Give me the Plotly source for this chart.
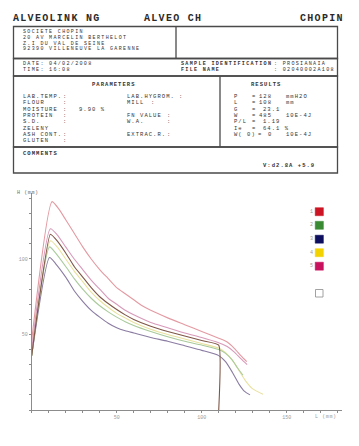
import plotly.graph_objects as go

W, H = 359, 446

# ---------------- data ----------------
legend_labels = ["1", "2", "3", "4", "5"]
legend_colors = ["#cc1424", "#3a8a34", "#0e0e5e", "#f2d200", "#c8125e"]

# individual bubble curves (L in mm, H in mm)
red_x = [0, 12, 16, 20, 25, 30, 35, 40, 45, 50, 55, 60, 65, 70, 80, 90, 100, 110, 115, 119, 123, 126.5]
red_y = [46, 138, 133, 126, 117, 108, 100, 93, 87, 81, 77, 73, 69, 66, 61, 56.5, 52, 47.5, 45, 41, 36, 32]

magenta_x = [0, 11, 15, 20, 25, 30, 35, 40, 45, 50, 55, 60, 70, 80, 90, 100, 110, 115, 119, 123, 126.7]
magenta_y = [40, 120, 116, 108, 100, 93, 86, 80, 74, 70, 66, 63, 58, 54.5, 51, 48, 44.5, 42, 38.5, 34, 30]

yellow_x = [0, 11, 15, 20, 25, 30, 35, 40, 45, 50, 55, 60, 70, 80, 90, 100, 110, 114, 118, 122, 126, 130, 136]
yellow_y = [36, 112, 108, 100, 92, 85, 78, 72.5, 68, 64, 61, 58, 53.5, 50, 47, 44, 41, 38, 33, 26, 19, 14, 10.5]

green_x = [0, 10.5, 14, 20, 25, 30, 35, 40, 45, 50, 55, 60, 70, 80, 90, 100, 110, 114, 118, 121, 124.3]
green_y = [36, 108, 104, 95, 87, 80, 74, 69, 65, 61.5, 58.5, 56, 52, 48.5, 45.5, 43, 40, 37.5, 33, 28, 23]

blue_x = [0, 10.5, 14, 20, 25, 30, 35, 40, 45, 50, 55, 60, 70, 80, 90, 100, 110, 114, 118, 122, 125, 128.4]
blue_y = [36, 101, 97, 88, 79, 72, 66, 61.5, 57.5, 54.5, 52.5, 51, 48, 45.5, 42.5, 39.5, 36, 32, 25, 17, 12.5, 10]

# average curve (ends at L with a vertical drop)
avg_x = [0, 11, 15, 20, 25, 30, 35, 40, 45, 50, 55, 60, 70, 80, 90, 100, 110, 110]
avg_y = [36, 116.4, 112, 104, 95, 88, 81, 75, 70.5, 66.5, 63, 60, 55.5, 52, 49, 46, 43, 0]

x_tickvals = list(range(0, 181, 10))
x_ticktext = ["50" if v == 50 else "100" if v == 100 else "150" if v == 150 else "" for v in x_tickvals]
y_tickvals = list(range(0, 141, 10))
y_ticktext = ["50" if v == 50 else "100" if v == 100 else "" for v in y_tickvals]

# report texts
title_parts = [("ALVEOLINK NG", 12, "left"), ("ALVEO CH", 143, "left"), ("CHOPIN", 345, "right")]
address_lines = ["SOCIETE CHOPIN", "20 AV MARCELIN BERTHELOT", "Z.I DU VAL DE SEINE", "92390 VILLENEUVE LA GARENNE"]
param_labels = ["LAB.TEMP.", "FLOUR", "MOISTURE", "PROTEIN", "S.D.", "ZELENY", "ASH CONT.", "GLUTEN"]
param_colons = [True, True, True, True, True, False, True, True]
param_values = ["", "", "9.90 %", "", "", "", "", ""]
mid_labels = [("LAB.HYGROM.", 178), ("MILL", 150), ("", 0), ("FN VALUE", 166),
              ("W.A.", 166), ("", 0), ("EXTRAC.R.", 166), ("", 0)]
result_names = ["P", "L", "G", "W", "P/L", "Ie", "W( 0)", ""]
result_eq_x = [251, 251, 251, 251, 251, 251, 257, 0]
result_values = ["128", "108", "23.1", "485", "1.19", "64.1 %", "0", ""]
result_value_x = [258, 258, 262, 258, 262, 262, 267, 0]
result_units = ["mmH2O", "mm", "", "10E-4J", "", "", "10E-4J", ""]

# ---------------- figure ----------------
def X(px):
    return px / W

def Y(py):
    return 1 - py / H

fig = go.Figure()

line_colors = {"red": "#e39aa2", "magenta": "#d79ab9", "yellow": "#e9e19e",
               "green": "#a9ca9b", "blue": "#8a7ca2", "avg": "#7e5646"}
for key, xs, ys in [("yellow", yellow_x, yellow_y), ("blue", blue_x, blue_y), ("green", green_x, green_y),
                    ("magenta", magenta_x, magenta_y), ("red", red_x, red_y)]:
    fig.add_trace(go.Scatter(x=xs, y=ys, mode="lines",
                             line=dict(color=line_colors[key], width=1.1, shape="spline", smoothing=0.6),
                             hoverinfo="skip"))
fig.add_trace(go.Scatter(x=avg_x, y=avg_y, mode="lines",
                         line=dict(color=line_colors["avg"], width=1.1, shape="spline", smoothing=0.4),
                         hoverinfo="skip"))

axis_col = "#8c8c8c"
tick_font = dict(size=5, color="#9a9a9a", family="Liberation Mono")
fig.update_layout(
    width=W, height=H, margin=dict(l=0, r=0, t=0, b=0), autosize=False,
    paper_bgcolor="white", plot_bgcolor="white", showlegend=False,
    xaxis=dict(domain=[X(31.7), X(342)], range=[0, 182.5], showline=True, linecolor=axis_col, linewidth=1,
               ticks="outside", ticklen=2, tickcolor=axis_col, tickvals=x_tickvals, ticktext=x_ticktext,
               tickfont=tick_font, showgrid=False, zeroline=False, fixedrange=True),
    yaxis=dict(domain=[Y(410), Y(193)], range=[0, 143.7], showline=True, linecolor=axis_col, linewidth=1,
               ticks="outside", ticklen=2, tickcolor=axis_col, tickvals=y_tickvals, ticktext=y_ticktext,
               tickfont=tick_font, showgrid=False, zeroline=False, fixedrange=True),
)

shapes = []
ann = []
FONT = "Liberation Mono"
TXT = "#333333"
CHAR_W = 4.35  # px per character in the scan


def text(px, py, s, size=5.5, bold=False, anchor="left", color=TXT, charw=CHAR_W):
    ls = max(charw - 0.6 * size, 0)
    s = '<span style="letter-spacing:%.2fpx">%s</span>' % (ls, s)
    if bold:
        s = "<b>" + s + "</b>"
    ann.append(dict(x=X(px), y=Y(py), xref="paper", yref="paper", text=s, showarrow=False,
                    xanchor=anchor, yanchor="middle", borderpad=0,
                    font=dict(family=FONT, size=size, color=color)))


def rect(x0, y0, x1, y1, col="#4a4a4a", w=1.3):
    shapes.append(dict(type="rect", xref="paper", yref="paper", x0=X(x0), x1=X(x1), y0=Y(y1), y1=Y(y0),
                       line=dict(color=col, width=w)))


def vline(x, y0, y1, col="#4a4a4a", w=1.3):
    shapes.append(dict(type="line", xref="paper", yref="paper", x0=X(x), x1=X(x), y0=Y(y0), y1=Y(y1),
                       line=dict(color=col, width=w)))


# title row
for s, px, anc in title_parts:
    text(px, 18.5, s, size=10, bold=True, anchor=anc, color="#2a2a2a", charw=7.3)

# boxes
rect(13.5, 26.5, 337.5, 58.5)
vline(176, 26.5, 58.5)
rect(13.5, 58.5, 337.5, 76)
rect(13.5, 76, 337.5, 147)
vline(220, 76, 147)
rect(13.5, 147, 337.5, 173)

for i, s in enumerate(address_lines):
    text(22, 32.2 + 5.7 * i, s, size=5.0)

text(22, 63.8, "DATE: 04/02/2008", size=5.1)
text(22, 69.6, "TIME: 16:08", size=5.1)
text(180, 63.8, "SAMPLE IDENTIFICATION", size=5.1, bold=True)
text(273, 63.8, ": PROSIANAIA", size=5.1)
text(180, 69.6, "FILE NAME", size=5.1, bold=True)
text(273, 69.6, ": 02040002A108", size=5.1)

text(114, 84.3, "PARAMETERS", bold=True, anchor="center")
text(266, 84.3, "RESULTS", bold=True, anchor="center")

rows = [96.7 + 6.29 * i for i in range(8)]
for i, py in enumerate(rows):
    text(22, py, param_labels[i])
    if param_colons[i]:
        text(62, py, ":")
    if param_values[i]:
        text(78, py, param_values[i])
    lab, cx = mid_labels[i]
    if lab:
        text(126, py, lab)
        text(cx, py, ":")
    if result_names[i]:
        text(233, py, result_names[i])
        text(result_eq_x[i], py, "=")
        text(result_value_x[i], py, result_values[i])
        if result_units[i]:
            text(285, py, result_units[i])

text(22, 153.3, "COMMENTS", bold=True)
text(262, 165, "V:d2.8A +5.9", bold=True)

# chart texts
text(16, 192.5, "H (mm)", size=5, color="#6a6a6a", charw=3.6)
text(326, 416.5, "L (mm)", size=5, color="#9a9a9a", anchor="center", charw=3.6)

# legend squares
leg_y = [211.7, 225.3, 239.2, 252.7, 266.2]
for lab, col, py in zip(legend_labels, legend_colors, leg_y):
    shapes.append(dict(type="rect", xref="paper", yref="paper", x0=X(315.2), x1=X(323.4), y0=Y(py + 4), y1=Y(py - 4),
                       line=dict(color=col, width=0.5), fillcolor=col))
    text(311, py, lab, size=5, color="#9a9a9a", anchor="center", charw=3)
shapes.append(dict(type="rect", xref="paper", yref="paper", x0=X(315.5), x1=X(323), y0=Y(297), y1=Y(289.5),
                   line=dict(color="#8a8a8a", width=0.8), fillcolor="white"))

fig.update_layout(shapes=shapes, annotations=ann)
fig.write_html("out.html", config={"displayModeBar": False, "staticPlot": True},
               post_script="document.body.style.margin='0';document.body.style.padding='0';")
